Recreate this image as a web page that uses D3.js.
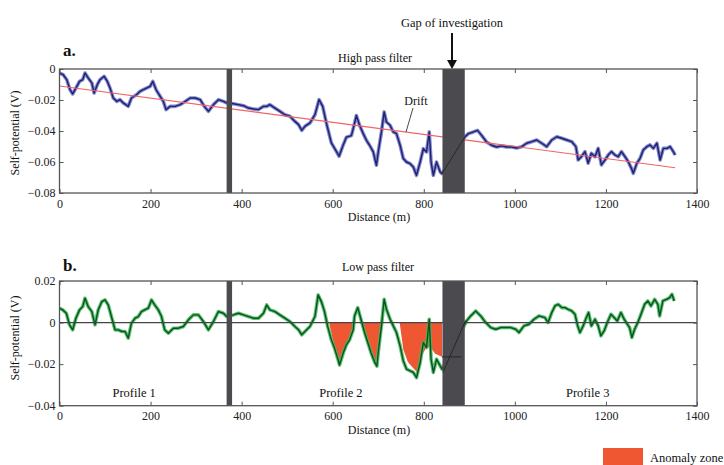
<!DOCTYPE html>
<html>
  <head>
    <meta charset="UTF-8" />
    <style>
      body { margin: 0; background: #fff; }
      svg { font-family: "Liberation Serif", "DejaVu Serif", serif; }
    </style>
  </head>
  <body>
    <svg></svg>
    <script src="https://d3js.org/d3.v7.min.js"></script>
    <script>
      // [distance (m), self-potential (V)]
      const highPass = [[0,-0.0026],[8,-0.0037],[16,-0.0069],[23,-0.0133],[29,-0.0161],[36,-0.0123],[44,-0.0080],[51,-0.0069],[56,-0.0026],[63,-0.0058],[71,-0.0090],[76,-0.0155],[83,-0.0101],[89,-0.0069],[98,-0.0047],[105,-0.0080],[111,-0.0123],[118,-0.0187],[126,-0.0209],[133,-0.0198],[140,-0.0219],[151,-0.0241],[158,-0.0187],[169,-0.0166],[177,-0.0144],[184,-0.0133],[191,-0.0123],[199,-0.0112],[205,-0.0080],[212,-0.0133],[221,-0.0176],[228,-0.0209],[234,-0.0262],[243,-0.0241],[254,-0.0241],[265,-0.0230],[276,-0.0209],[287,-0.0187],[298,-0.0187],[309,-0.0198],[318,-0.0241],[327,-0.0273],[338,-0.0230],[349,-0.0198],[360,-0.0209],[367,-0.0219],[382,-0.0224],[393,-0.0230],[404,-0.0237],[415,-0.0252],[426,-0.0258],[437,-0.0262],[448,-0.0241],[455,-0.0241],[462,-0.0230],[473,-0.0252],[484,-0.0273],[495,-0.0295],[506,-0.0305],[517,-0.0338],[525,-0.0359],[532,-0.0396],[539,-0.0370],[550,-0.0348],[561,-0.0295],[570,-0.0198],[578,-0.0241],[586,-0.0348],[597,-0.0477],[608,-0.0531],[614,-0.0563],[623,-0.0490],[630,-0.0440],[641,-0.0430],[648,-0.0350],[652,-0.0300],[659,-0.0363],[667,-0.0417],[674,-0.0460],[681,-0.0492],[689,-0.0535],[696,-0.0621],[700,-0.0535],[707,-0.0406],[713,-0.0277],[718,-0.0342],[726,-0.0363],[733,-0.0406],[740,-0.0417],[748,-0.0492],[755,-0.0578],[762,-0.0600],[770,-0.0611],[777,-0.0632],[784,-0.0686],[792,-0.0600],[799,-0.0514],[806,-0.0535],[812,-0.0406],[816,-0.0600],[821,-0.0686],[828,-0.0600],[836,-0.0664],[840,-0.0675],[890,-0.0439],[898,-0.0417],[909,-0.0406],[918,-0.0396],[927,-0.0428],[938,-0.0471],[949,-0.0492],[960,-0.0503],[971,-0.0496],[982,-0.0503],[993,-0.0503],[1004,-0.0510],[1015,-0.0501],[1026,-0.0479],[1037,-0.0469],[1048,-0.0458],[1059,-0.0479],[1070,-0.0501],[1081,-0.0458],[1092,-0.0437],[1103,-0.0447],[1114,-0.0458],[1125,-0.0469],[1134,-0.0501],[1139,-0.0587],[1146,-0.0566],[1154,-0.0533],[1161,-0.0608],[1168,-0.0544],[1176,-0.0566],[1183,-0.0512],[1190,-0.0619],[1198,-0.0587],[1205,-0.0555],[1212,-0.0533],[1220,-0.0555],[1227,-0.0566],[1234,-0.0533],[1242,-0.0566],[1249,-0.0598],[1256,-0.0641],[1260,-0.0673],[1268,-0.0608],[1275,-0.0576],[1282,-0.0522],[1290,-0.0501],[1297,-0.0490],[1304,-0.0512],[1312,-0.0479],[1319,-0.0587],[1326,-0.0512],[1334,-0.0512],[1341,-0.0501],[1348,-0.0533],[1352,-0.0555]];

      const lowPass = [[0,0.0069],[7,0.0061],[15,0.0045],[22,-0.0011],[29,-0.0035],[36,0.0021],[44,0.0061],[51,0.0077],[56,0.0117],[63,0.0077],[71,0.0053],[78,-0.0011],[85,0.0061],[93,0.0101],[100,0.0109],[107,0.0085],[114,0.0029],[122,-0.0035],[129,-0.0035],[137,-0.0043],[144,-0.0043],[151,-0.0075],[158,-0.0003],[166,0.0021],[173,0.0029],[180,0.0053],[187,0.0061],[195,0.0069],[202,0.0109],[209,0.0085],[217,0.0061],[224,0.0029],[231,-0.0035],[239,-0.0051],[250,-0.0027],[261,-0.0027],[272,-0.0019],[283,0.0013],[294,0.0037],[305,0.0037],[316,0.0005],[327,-0.0035],[338,0.0005],[349,0.0053],[360,0.0045],[367,0.0029],[382,0.0037],[393,0.0045],[404,0.0037],[415,0.0029],[426,0.0021],[437,0.0021],[448,0.0045],[455,0.0085],[462,0.0061],[473,0.0053],[484,0.0037],[495,0.0021],[506,0.0005],[517,-0.0019],[525,-0.0035],[532,-0.0059],[539,-0.0043],[550,-0.0019],[561,0.0029],[568,0.0133],[575,0.0101],[582,0.0053],[589,-0.0019],[597,-0.0083],[604,-0.0123],[612,-0.0180],[615,-0.0204],[623,-0.0147],[630,-0.0107],[637,-0.0083],[645,-0.0035],[648,0.0032],[655,0.0072],[662,0.0016],[670,-0.0048],[677,-0.0096],[684,-0.0144],[692,-0.0190],[697,-0.0210],[700,-0.0144],[707,-0.0016],[713,0.0112],[718,0.0064],[726,0.0016],[733,-0.0016],[740,-0.0048],[748,-0.0112],[755,-0.0184],[762,-0.0224],[770,-0.0232],[777,-0.0240],[784,-0.0265],[792,-0.0192],[799,-0.0096],[806,-0.0120],[812,0.0016],[816,-0.0176],[821,-0.0240],[828,-0.0176],[836,-0.0208],[840,-0.0224],[894,0.0008],[903,0.0032],[914,0.0056],[925,0.0032],[936,0.0000],[947,-0.0024],[958,-0.0032],[969,-0.0024],[980,-0.0024],[991,-0.0024],[1002,-0.0032],[1009,-0.0048],[1020,-0.0016],[1031,-0.0008],[1042,0.0016],[1053,0.0032],[1066,0.0024],[1073,0.0000],[1081,0.0048],[1088,0.0080],[1095,0.0088],[1103,0.0072],[1110,0.0072],[1117,0.0064],[1125,0.0056],[1132,0.0040],[1138,-0.0016],[1143,-0.0048],[1150,-0.0016],[1157,0.0024],[1162,0.0048],[1168,-0.0016],[1176,0.0016],[1183,-0.0016],[1189,-0.0064],[1196,-0.0040],[1203,0.0000],[1211,0.0040],[1218,0.0024],[1225,0.0008],[1233,0.0048],[1240,0.0016],[1247,-0.0008],[1252,-0.0024],[1257,-0.0072],[1263,-0.0032],[1270,0.0000],[1277,0.0040],[1285,0.0088],[1292,0.0104],[1299,0.0080],[1307,0.0112],[1314,0.0088],[1318,0.0032],[1325,0.0104],[1333,0.0112],[1340,0.0120],[1345,0.0136],[1350,0.0104]];

      const drift = [[0,-0.011],[1352,-0.0637]];
      const gaps = [[367,379],[841,890]];
      const gapLinkA = [[[840,-0.0675],[890,-0.0439]]];
      const gapLinkB = [[[840,-0.0165],[882,-0.0165]],[[842,-0.024],[892,0.001]]];

      const anomalyZones = [
        [[592,0],[600,-0.008],[608,-0.014],[615,-0.019],[625,-0.013],[635,-0.008],[648,0]],
        [[663,0],[672,-0.006],[683,-0.013],[693,-0.020],[700,-0.014],[706,-0.005],[711,0]],
        [[747,0],[755,-0.013],[765,-0.019],[777,-0.022],[786,-0.024],[795,-0.016],[806,-0.012],[815,-0.012],[825,-0.015],[840,-0.0165],[840,0]]
      ];

      const xTicks = [0,200,400,600,800,1000,1200,1400];
      const yTicksA = [0,-0.02,-0.04,-0.06,-0.08];
      const yTicksB = [0.02,0,-0.02,-0.04];
      const profiles = [["Profile 1",164],["Profile 2",618],["Profile 3",1160]];

      const width = 724, height = 465;
      const svg = d3.select("svg").attr("width", width).attr("height", height);

      const x = d3.scaleLinear().domain([0,1400]).range([59.5,697]);
      const yA = d3.scaleLinear().domain([-0.08,0]).range([193,69]);
      const yB = d3.scaleLinear().domain([-0.04,0.02]).range([405.7,281]);

      const fmtY = d => d === 0 ? "0" : d3.format(".2f")(d);

      function axes(y, ticks) {
        const g = svg.append("g");
        const [top, bottom] = [y.range()[1], y.range()[0]];
        g.append("g").attr("transform", `translate(0,${bottom})`)
          .call(d3.axisBottom(x).tickValues(xTicks).tickSizeInner(-4).tickSizeOuter(0).tickPadding(6).tickFormat(d3.format("d")));
        g.append("g").attr("transform", `translate(0,${top})`)
          .call(d3.axisTop(x).tickValues(xTicks).tickSizeInner(-4).tickSizeOuter(0).tickFormat(""));
        g.append("g").attr("transform", `translate(${x.range()[0]},0)`)
          .call(d3.axisLeft(y).tickValues(ticks).tickSizeInner(-4).tickSizeOuter(0).tickPadding(4).tickFormat(fmtY));
        g.append("g").attr("transform", `translate(${x.range()[1]},0)`)
          .call(d3.axisRight(y).tickValues(ticks).tickSizeInner(-4).tickSizeOuter(0).tickFormat(""));
        g.selectAll(".domain").remove();
        g.selectAll(".tick line").attr("stroke", "#555");
        g.selectAll(".tick text").attr("font-size", 12).attr("font-family", "Liberation Serif").attr("fill", "#222");
        g.append("rect")
          .attr("x", x.range()[0]).attr("y", top)
          .attr("width", x.range()[1] - x.range()[0]).attr("height", bottom - top)
          .attr("fill", "none").attr("stroke", "#555").attr("stroke-width", 1.3);
      }

      function gapBars(y) {
        svg.append("g").selectAll("rect").data(gaps).join("rect")
          .attr("x", d => x(d[0])).attr("width", d => x(d[1]) - x(d[0]))
          .attr("y", y.range()[1]).attr("height", y.range()[0] - y.range()[1])
          .attr("fill", "#4b4b4f");
      }

      function trace(data, y, halo, core) {
        const line = d3.line().x(d => x(d[0])).y(d => y(d[1]));
        svg.append("path").datum(data).attr("d", line)
          .attr("fill", "none").attr("stroke", halo).attr("stroke-width", 3.6)
          .attr("stroke-linejoin", "round").attr("opacity", 0.85);
        svg.append("path").datum(data).attr("d", line)
          .attr("fill", "none").attr("stroke", core).attr("stroke-width", 1.4)
          .attr("stroke-linejoin", "round");
      }

      function links(list, y) {
        const line = d3.line().x(d => x(d[0])).y(d => y(d[1]));
        svg.append("g").selectAll("path").data(list).join("path")
          .attr("d", line).attr("fill", "none").attr("stroke", "#222").attr("stroke-width", 0.9);
      }

      function text(t, px, py, opts = {}) {
        return svg.append("text").attr("x", px).attr("y", py)
          .attr("text-anchor", opts.anchor || "middle")
          .attr("font-size", opts.size || 12)
          .attr("font-weight", opts.weight || "normal")
          .attr("fill", "#111").text(t);
      }

      // ---- panel a: high pass ----
      trace(highPass, yA, "#6f74c4", "#1d2170");
      svg.append("path").datum(drift)
        .attr("d", d3.line().x(d => x(d[0])).y(d => yA(d[1])))
        .attr("stroke", "#f06464").attr("stroke-width", 1.1).attr("fill", "none");
      gapBars(yA);
      links(gapLinkA, yA);
      axes(yA, yTicksA);

      text("a.", 63, 56, { anchor: "start", size: 17, weight: "bold" });
      text("High pass filter", 375, 62);
      text("Gap of investigation", 452, 27, { size: 12.5 });
      svg.append("line").attr("x1", 452).attr("x2", 452).attr("y1", 33).attr("y2", 62)
        .attr("stroke", "#111").attr("stroke-width", 2);
      svg.append("path").attr("d", "M447,60 L457,60 L452,69 Z").attr("fill", "#111");
      text("Drift", 416, 105);
      svg.append("line").attr("x1", 413).attr("y1", 108).attr("x2", 406).attr("y2", 132)
        .attr("stroke", "#333").attr("stroke-width", 0.9);
      text("Distance (m)", 379, 221);
      text("Self-potential (V)", 0, 0).attr("transform", "translate(19,133) rotate(-90)");

      // ---- panel b: low pass ----
      svg.append("g").selectAll("path").data(anomalyZones).join("path")
        .attr("d", d3.area().x(d => x(d[0])).y0(yB(0)).y1(d => yB(d[1])))
        .attr("fill", "#ef5733");
      trace(lowPass, yB, "#3fba5c", "#0d4f1f");
      svg.append("line").attr("x1", x(0)).attr("x2", x(1400)).attr("y1", yB(0)).attr("y2", yB(0))
        .attr("stroke", "#444").attr("stroke-width", 1.3);
      gapBars(yB);
      links(gapLinkB, yB);
      axes(yB, yTicksB);

      text("b.", 63, 271, { anchor: "start", size: 17, weight: "bold" });
      text("Low pass filter", 378, 271);
      text("Distance (m)", 379, 434);
      text("Self-potential (V)", 0, 0).attr("transform", "translate(19,338) rotate(-90)");
      svg.append("g").selectAll("text").data(profiles).join("text")
        .attr("x", d => x(d[1])).attr("y", 397)
        .attr("text-anchor", "middle").attr("font-size", 12.5).attr("fill", "#111")
        .text(d => d[0]);

      // legend
      svg.append("rect").attr("x", 603).attr("y", 448).attr("width", 40).attr("height", 18).attr("fill", "#ef5733");
      text("Anomaly zone", 650, 462, { anchor: "start", size: 12.5 });
    </script>
  </body>
</html>
